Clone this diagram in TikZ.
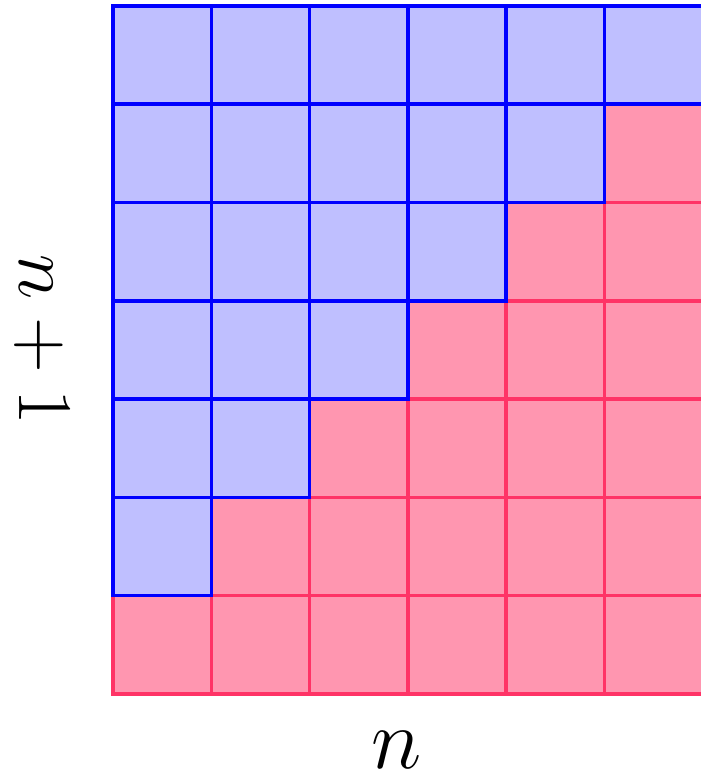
\documentclass[tikz,border=0pt]{standalone}
\usepackage{amsmath}
\usepackage{xcolor}
\usepackage{tikz}
\definecolor{cellblue}{RGB}{191,191,255}
\definecolor{cellpink}{RGB}{255,150,176}
\definecolor{linered}{RGB}{255,51,102}
\tikzset{
  pinkcell/.style={fill=cellpink,draw=linered,line width=1pt},
  bluecell/.style={fill=cellblue,draw=blue,line width=1pt}
}

\begin{document}
\begin{tikzpicture}[font=\Huge]
  \useasboundingbox (-1.15,-0.865) rectangle (5.98,7.06);
  \clip (-1.15,-0.865) rectangle (5.98,7.06);
  % lower right part
  \foreach \j in {0,...,5}{
    \foreach \c in {\j,...,5}{
      \draw[pinkcell] (\c,\j) rectangle ++(1,1);
    }
  }
  % upper left staircase
  \foreach \j in {1,...,6}{
    \pgfmathtruncatemacro{\last}{\j-1}
    \foreach \c in {0,...,\last}{
      \draw[bluecell] (\c,\j) rectangle ++(1,1);
    }
  }
  \node[rotate=-90,scale=0.9] (rows) at (-0.72,3.6) {$n+1$};
  \node[inner sep=0pt] (cols) at (2.88,-0.57) {$n$};
\end{tikzpicture}
\end{document}
